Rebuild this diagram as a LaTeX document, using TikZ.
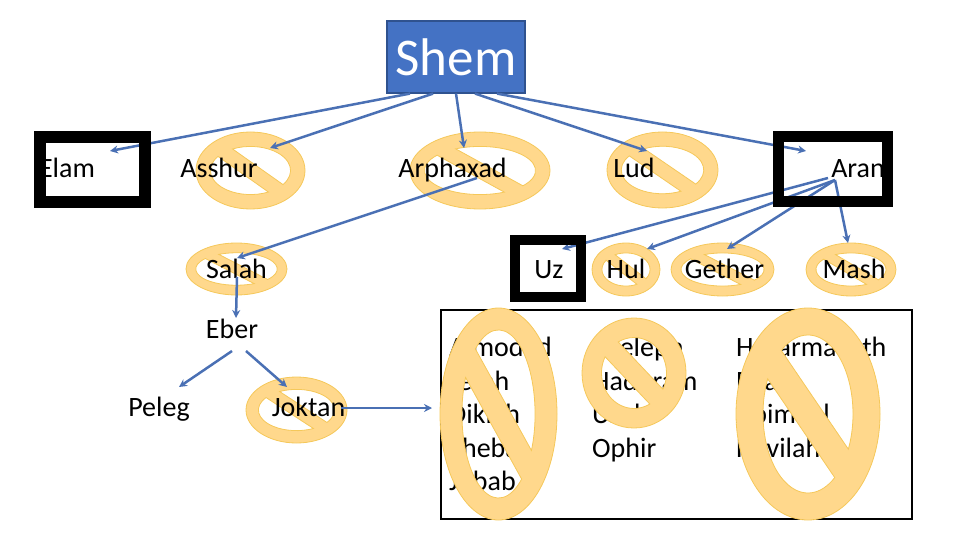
\documentclass[tikz,border=0pt]{standalone}
\usepackage{fontspec}
\setmainfont{Carlito}
\usetikzlibrary{arrows.meta}

\definecolor{shemblue}{HTML}{4472C4}
\definecolor{shemedge}{HTML}{2F528F}
\definecolor{edgeblue}{HTML}{4A70B4}
\definecolor{signfill}{HTML}{FFD88C}
\definecolor{signline}{HTML}{F5C85A}

\tikzset{
  person/.style={inner sep=0, text height=18pt, text depth=6pt, font=\fontsize{28}{32}\selectfont},
  shembox/.style={draw=shemedge, line width=1.2pt, fill=shemblue, text=white, inner sep=0,
    minimum width=138pt, minimum height=72pt, font=\fontsize{53}{60}\selectfont},
  blackbox/.style={draw=black, inner sep=0},
  sonsbox/.style={draw=black, line width=2pt, inner sep=0, minimum width=471pt, minimum height=209pt},
  sons/.style={inner sep=0, anchor=north west, align=left, font=\fontsize{28}{33.5}\selectfont},
  link/.style={draw=edgeblue, line width=2.5pt, -{Stealth[length=8pt,width=8pt]}},
}

% sign from its box: x1, y1, x2, y2
\newcommand{\nosign}[4]{%
  \pgfmathsetmacro{\oa}{(#3-#1)/2}%
  \pgfmathsetmacro{\ob}{(#4-#2)/2}%
  \pgfmathsetmacro{\dr}{0.1875*2*min(\oa,\ob)}%
  \pgfmathsetmacro{\ia}{\oa-\dr}%
  \pgfmathsetmacro{\ib}{\ob-\dr}%
  \pgfmathsetmacro{\ang}{atan2(\ob,\oa)}%
  \pgfmathsetmacro{\dx}{cos(\ang)/\ia}%
  \pgfmathsetmacro{\dy}{sin(\ang)/\ib}%
  \pgfmathsetmacro{\len}{sqrt(\dx*\dx+\dy*\dy)}%
  \pgfmathsetmacro{\off}{(sin(\ang)*\dy*\dr/2/\ia+cos(\ang)*\dx*\dr/2/\ib)/\len}%
  \pgfmathsetmacro{\nrm}{atan2(\dx,\dy)}%
  \pgfmathsetmacro{\hlf}{acos(\off)}%
  \pgfmathsetmacro{\sta}{\nrm-\hlf}%
  \pgfmathsetmacro{\stb}{\nrm+\hlf}%
  \pgfmathsetmacro{\stc}{\sta+180}%
  \pgfmathsetmacro{\std}{\stb+180}%
  \begin{scope}[shift={({(#1+#3)/2},{(#2+#4)/2})}, yscale=-1]
    \path[fill=signfill, draw=signline, line width=0.8pt, even odd rule]
      (0,0) ellipse [x radius=\oa, y radius=\ob]
      (\sta:{\ia} and {\ib}) arc [start angle=\sta, end angle=\stb, x radius=\ia, y radius=\ib] -- cycle
      (\stc:{\ia} and {\ib}) arc [start angle=\stc, end angle=\std, x radius=\ia, y radius=\ib] -- cycle;
  \end{scope}%
}

\begin{document}
\begin{tikzpicture}[x=1pt,y=-1pt]
\useasboundingbox (0,0) rectangle (960,540);

% Signs under the names
  \nosign{196}{132}{305}{209}
  \nosign{410}{132}{550}{209}
  \nosign{607}{132}{718}{208}
  \nosign{186}{243}{287}{295}
  \nosign{592}{243}{660}{296}
  \nosign{671}{243}{774}{296}
  \nosign{806}{243}{896}{296}
  \nosign{246}{377}{347}{443}

% Nodes
  \node[shembox] (Shem) at (456,57) {Shem};
  \node[person] (Elam)     at (67,172)    {Elam};
  \node[person] (Asshur)   at (219,172)   {Asshur};
  \node[person] (Arphaxad) at (452.5,172) {Arphaxad};
  \node[person] (Lud)      at (634,172)   {Lud};
  \node[person] (Aran)     at (858,172)   {Aran};
  \node[person] (Salah)    at (236.5,272) {Salah};
  \node[person] (Uz)       at (549,272)   {Uz};
  \node[person] (Hul)      at (626,272)   {Hul};
  \node[person] (Gether)   at (724.5,272) {Gether};
  \node[person] (Mash)     at (854,272)   {Mash};
  \node[person] (Eber)     at (232,332)   {Eber};
  \node[person] (Peleg)    at (159,410)   {Peleg};
  \node[person] (Joktan)   at (308.5,410) {Joktan};

% Joktan's sons, signs on top
  \node[sonsbox] (Sons) at (676.5,414.5) {};
  \node[sons] (SonsA) at (449,337) {Almodad\\Jerah\\Diklah\\Sheba\\Jobab};
  \node[sons] (SonsB) at (592,337) {Sheleph\\Hadoram\\Uzal\\Ophir};
  \node[sons] (SonsC) at (736,337) {Hazarmaveth\\Ebal\\Abimael\\Havilah};
  \nosign{440}{308}{557}{520}
  \nosign{582}{318}{686}{428}
  \nosign{736}{308}{880}{520}

% Edges
  \draw[link] ([xshift=-46pt]Shem.south) -- ([shift={(43,-21)}]Elam.center);
  \draw[link] ([xshift=-23pt]Shem.south) -- ([shift={(51,-24)}]Asshur.center);
  \draw[link] (Shem.south)               -- ([shift={(11.5,-24)}]Arphaxad.center);
  \draw[link] ([xshift=19pt]Shem.south)  -- ([shift={(13,-21)}]Lud.center);
  \draw[link] ([xshift=41pt]Shem.south)  -- ([shift={(-52,-21)}]Aran.center);
  \draw[link] ([shift={(24.5,6)}]Arphaxad.center) -- ([shift={(0.5,-14)}]Salah.center);
  \draw[link] ([shift={(0.5,5)}]Salah.center)     -- ([shift={(4,-14)}]Eber.center);
  \draw[link] ([shift={(0,19)}]Eber.center)       -- ([shift={(20,-23)}]Peleg.center);
  \draw[link] ([shift={(14,19)}]Eber.center)      -- ([shift={(-21.5,-23)}]Joktan.center);
  \draw[link] ([shift={(32.5,-2)}]Joktan.center)  -- ([shift={(-8,-6.5)}]Sons.west);
  \draw[link] ([shift={(-30,6)}]Aran.center)      -- ([shift={(13,-23)}]Uz.center);
  \draw[link] ([shift={(-23,8)}]Aran.center)      -- ([shift={(21,-23)}]Hul.center);
  \draw[link] ([shift={(-23,8)}]Aran.center)      -- ([shift={(2.5,-23)}]Gether.center);
  \draw[link] ([shift={(-23,8)}]Aran.center)      -- ([shift={(-6,-29)}]Mash.center);

% Black frames on top
  \node[blackbox, line width=12pt, minimum width=105pt, minimum height=65pt] (ElamBox) at (92.5,169.5) {};
  \node[blackbox, line width=11pt, minimum width=109pt, minimum height=65pt] (AranBox) at (833,169) {};
  \node[blackbox, line width=10pt, minimum width=66pt, minimum height=57pt]  (UzBox)   at (548,268.5) {};
\end{tikzpicture}
\end{document}
